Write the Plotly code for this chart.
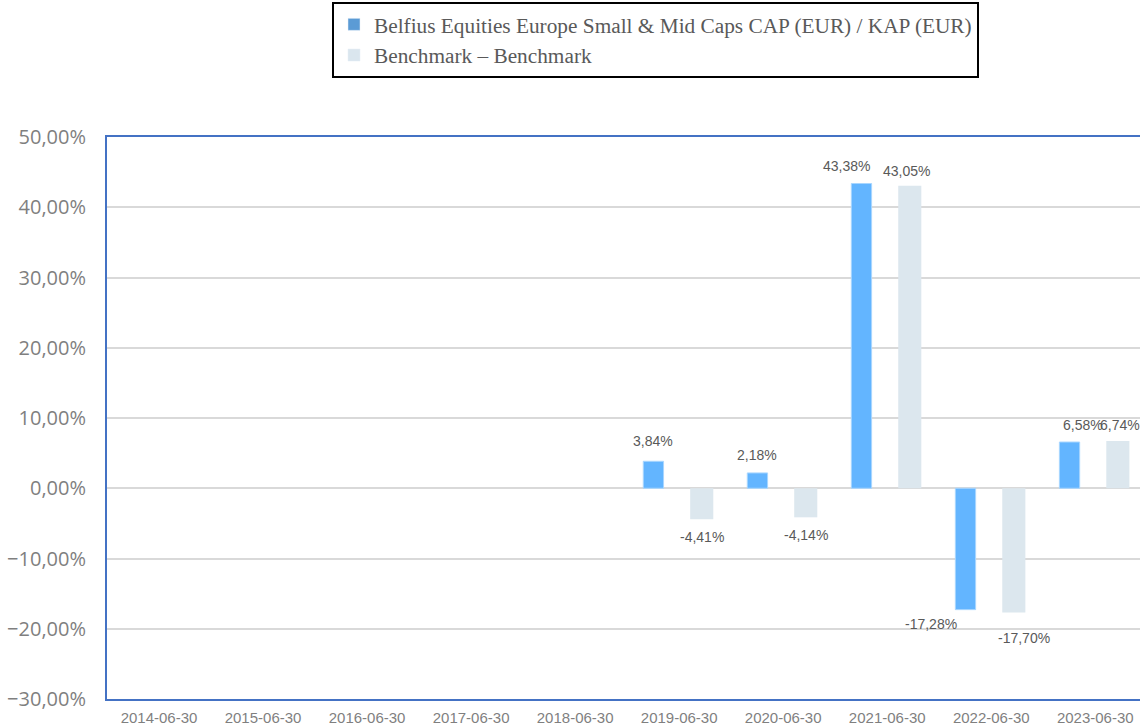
import plotly.graph_objects as go

categories = ["2014-06-30", "2015-06-30", "2016-06-30", "2017-06-30", "2018-06-30",
              "2019-06-30", "2020-06-30", "2021-06-30", "2022-06-30", "2023-06-30"]
fund_values = [None, None, None, None, None, 3.84, 2.18, 43.38, -17.28, 6.58]
bench_values = [None, None, None, None, None, -4.41, -4.14, 43.05, -17.70, 6.74]
fund_name = "Belfius Equities Europe Small & Mid Caps CAP (EUR) / KAP (EUR)"
bench_name = "Benchmark \u2013 Benchmark"

# style: label nudges in px (dx, dy distance from bar end)
fund_label_dx = [0, 0, 0, 0, 0, 0, 0, -15, -35, 13]
fund_label_gap = [0, 0, 0, 0, 0, 20, 18, 18, 14, 17]
bench_label_dx = [0, 0, 0, 0, 0, 0, 0, -3, 10, 2]
bench_label_gap = [0, 0, 0, 0, 0, 18, 18, 15, 25, 16]

FUND_BAR = "#63B5FF"
FUND_EDGE = "#A8D6FF"
BENCH_BAR = "#DCE7EE"
FUND_LEG = "#5B9BD5"
BENCH_LEG = "#DAE6EE"
AXIS_BLUE = "#4472C4"
GRID = "#D9D9D9"
LABEL = "#595959"
TICK = "#7F7F7F"

FUND_OFF, FUND_W = -0.345, 0.195
BENCH_OFF, BENCH_W = 0.106, 0.222
PX_PER_CAT = 104.0

def fmt(v):
    return ("%.2f" % v).replace(".", ",") + "%"

fig = go.Figure()
fig.add_trace(go.Bar(x=categories, y=fund_values, offset=FUND_OFF, width=FUND_W,
                     marker=dict(color=FUND_BAR, line=dict(color=FUND_EDGE, width=1)),
                     showlegend=False, hoverinfo="skip"))
fig.add_trace(go.Bar(x=categories, y=bench_values, offset=BENCH_OFF, width=BENCH_W,
                     marker=dict(color=BENCH_BAR, line=dict(width=0)),
                     showlegend=False, hoverinfo="skip"))
# legend entries
fig.add_trace(go.Bar(x=[categories[0]], y=[None], name=fund_name,
                     marker=dict(color=FUND_LEG), showlegend=True))
fig.add_trace(go.Bar(x=[categories[0]], y=[None], name=bench_name,
                     marker=dict(color=BENCH_LEG), showlegend=True))

annotations = []
for vals, off, w, dxs, gaps in [(fund_values, FUND_OFF, FUND_W, fund_label_dx, fund_label_gap),
                                (bench_values, BENCH_OFF, BENCH_W, bench_label_dx, bench_label_gap)]:
    for i, v in enumerate(vals):
        if v is None:
            continue
        center_px = (off + w / 2) * PX_PER_CAT
        annotations.append(dict(
            x=categories[i], y=v, xref="x", yref="y", text=fmt(v), showarrow=False,
            xshift=center_px + dxs[i], yshift=gaps[i] if v >= 0 else -gaps[i],
            xanchor="center", yanchor="middle",
            font=dict(family="Liberation Sans, Arial, sans-serif", size=14, color=LABEL)))

fig.update_layout(
    width=1140, height=725,
    margin=dict(l=107, r=0, t=137, b=26, autoexpand=False),
    paper_bgcolor="white", plot_bgcolor="white",
    barmode="overlay",
    separators=",.",
    annotations=annotations,
    legend=dict(x=(332 - 107) / 1033, y=(699 - 2) / 562, xanchor="left", yanchor="top",
                bordercolor="black", borderwidth=2, bgcolor="white",
                font=dict(family="Liberation Serif, Times New Roman, serif", size=21.3, color=LABEL),
                tracegroupgap=0, itemclick=False),
    xaxis=dict(type="category", categoryorder="array", categoryarray=categories,
               range=[-0.5, 9.43], showline=True, linecolor=AXIS_BLUE, linewidth=2, mirror=True,
               showgrid=False, ticks="", ticklabelstandoff=4,
               tickfont=dict(family="Liberation Sans, Arial, sans-serif", size=15, color=TICK)),
    yaxis=dict(range=[-30, 50], dtick=10, tick0=0, tickformat=".2f", ticksuffix="%",
               showline=True, linecolor=AXIS_BLUE, linewidth=2, mirror=False,
               showgrid=True, gridcolor=GRID, gridwidth=1.5,
               zeroline=True, zerolinecolor=GRID, zerolinewidth=1.5,
               ticks="", ticklabelstandoff=15,
               tickfont=dict(family="Open Sans, sans-serif", size=20, color=TICK)),
)

fig.write_html("out.html", config={"displayModeBar": False},
               post_script="document.body.style.margin='0';document.body.style.overflow='hidden';")
